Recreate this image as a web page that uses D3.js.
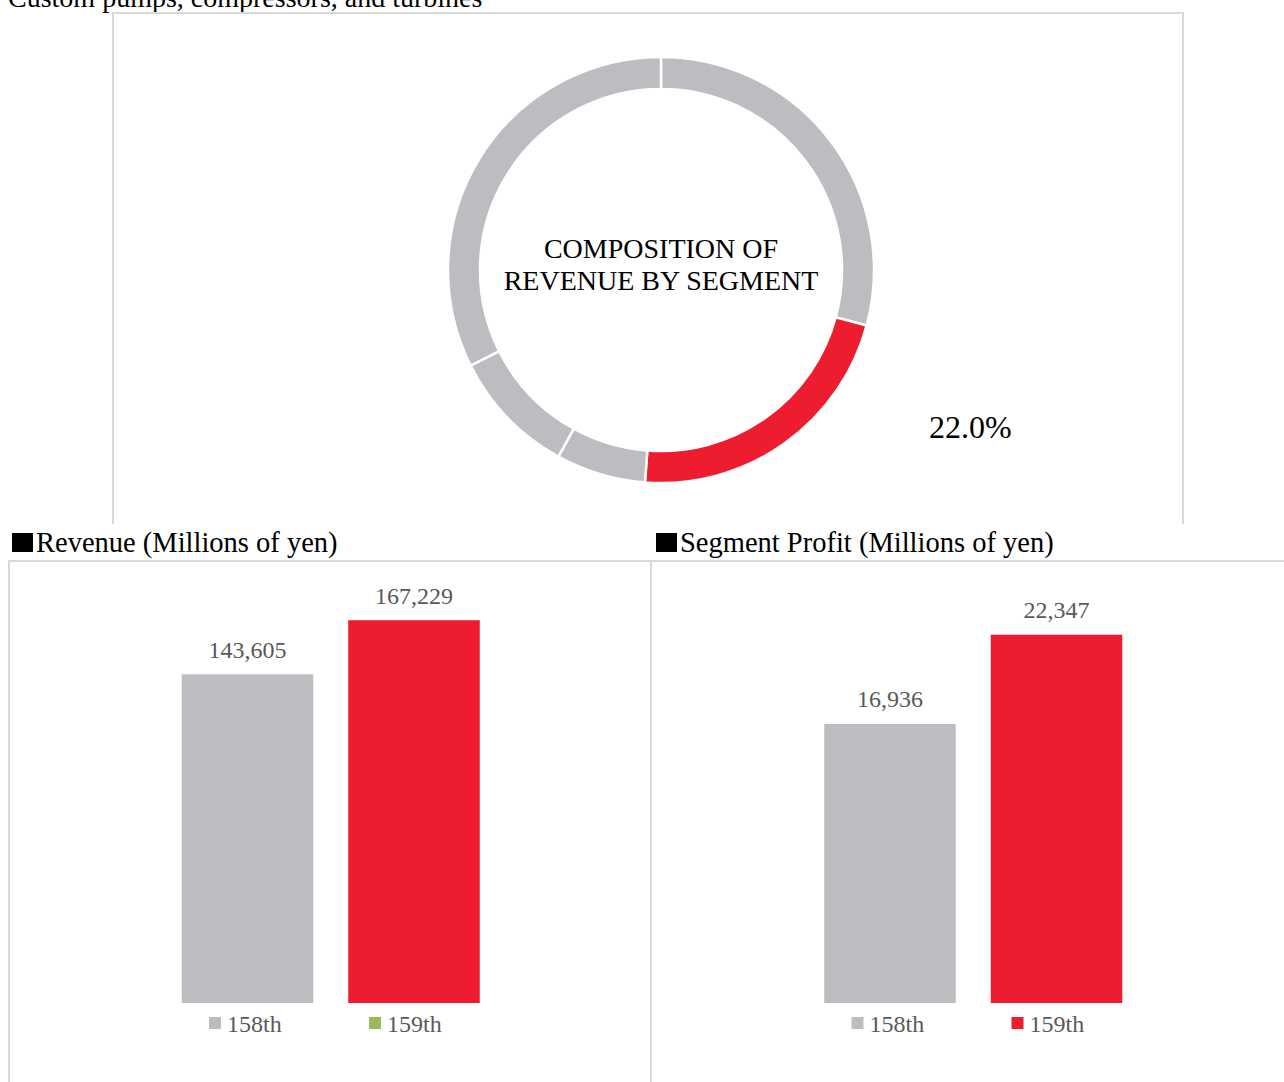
<!DOCTYPE html>
<html>
<head>
<meta charset="utf-8">
<script src="https://cdn.jsdelivr.net/npm/d3@7"></script>
<style>
  html, body { margin: 0; padding: 0; background: #fff; }
  svg { display: block; font-family: "Liberation Serif", "Times New Roman", serif; }
</style>
</head>
<body>
<svg id="chart" width="1284" height="1082"></svg>
<script>
// Segment shares of revenue (clockwise from 12 o'clock); the highlighted one is this segment
const segmentNames = ["Other A", "Custom pumps, compressors, and turbines", "Other B", "Other C", "Other D"];
const segmentShares = [29.2, 22.0, 6.8, 9.6, 32.4];
const highlightIndex = 1;

// Revenue and segment profit, millions of yen
const periods = ["158th", "159th"];
const revenueValues = [143605, 167229];
const profitValues = [16936, 22347];

// Legend swatch colours as printed under each bar chart
const revenueLegendColors = ["#bcbdc0", "#9bbb59"];
const profitLegendColors = ["#bcbdc0", "#ed1c2e"];

const GRAY = "#bcbdc0", RED = "#ed1c2e", BORDER = "#d9d9d9", LABEL = "#595959";

const svg = d3.select("#chart");

// ---- page title (runs off the top edge)
svg.append("text").attr("x", 8).attr("y", 7)
  .attr("font-size", 28).attr("fill", "#000")
  .text("Custom pumps, compressors, and turbines");

// ---- frames
const frame = svg.append("g").attr("stroke", BORDER).attr("stroke-width", 2).attr("fill", "none");
frame.append("path").attr("d", "M113,524 V13 H1183 V524");
frame.append("path").attr("d", "M9,1082 V561 H1284");
frame.append("line").attr("x1", 651).attr("x2", 651).attr("y1", 561).attr("y2", 1082);

// ---- donut
const cx = 661, cy = 270, rOuter = 213, rInner = 181;
const pie = d3.pie().sort(null).value(d => d);
const arc = d3.arc().innerRadius(rInner).outerRadius(rOuter);
const donut = svg.append("g").attr("transform", `translate(${cx},${cy})`);
donut.selectAll("path").data(pie(segmentShares)).join("path")
  .attr("d", arc)
  .attr("fill", (d, i) => i === highlightIndex ? RED : GRAY)
  .attr("stroke", "#fff").attr("stroke-width", 2.5)
  .append("title").text((d, i) => segmentNames[i]);

donut.append("text").attr("text-anchor", "middle").attr("font-size", 28).attr("fill", "#000")
  .selectAll("tspan").data(["COMPOSITION OF", "REVENUE BY SEGMENT"]).join("tspan")
  .attr("x", 0).attr("y", (d, i) => -12 + i * 32).text(d => d);

svg.append("text").attr("x", 929).attr("y", 438).attr("font-size", 32).attr("fill", "#000")
  .text(d3.format(".1f")(segmentShares[highlightIndex]) + "%");

// ---- bar charts
const legendOffsets = [-38.5, -45];

function barChart(opts) {
  const g = svg.append("g");
  // heading with black square marker
  g.append("rect").attr("x", opts.headX).attr("y", 533).attr("width", 21).attr("height", 19).attr("fill", "#000");
  g.append("text").attr("x", opts.headX + 24).attr("y", 552).attr("font-size", 28.5).attr("fill", "#000")
    .text(opts.title);

  const x = d3.scaleBand().domain(periods).range(opts.xRange).paddingInner(0.21).paddingOuter(0.5);
  const y = d3.scaleLinear().domain([0, opts.yMax]).range([1003, 591]);

  g.selectAll(".bar").data(opts.values).join("rect")
    .attr("x", (d, i) => x(periods[i]))
    .attr("y", d => y(d))
    .attr("width", x.bandwidth())
    .attr("height", d => y(0) - y(d))
    .attr("fill", (d, i) => i === 0 ? GRAY : RED);

  g.selectAll(".val").data(opts.values).join("text")
    .attr("x", (d, i) => x(periods[i]) + x.bandwidth() / 2)
    .attr("y", d => y(d) - 16.5)
    .attr("text-anchor", "middle").attr("font-size", 24).attr("fill", LABEL)
    .text(d => d3.format(",")(d));

  const leg = g.selectAll(".leg").data(periods).join("g")
    .attr("transform", (p, i) => `translate(${x(p) + x.bandwidth() / 2 + legendOffsets[i]},0)`);
  leg.append("rect").attr("x", 0).attr("y", 1017).attr("width", 12).attr("height", 12)
    .attr("fill", (p, i) => opts.legendColors[i]);
  leg.append("text").attr("x", 18).attr("y", 1032).attr("font-size", 24).attr("fill", LABEL)
    .text(p => p);
}

barChart({ title: "Revenue (Millions of yen)", headX: 12, values: revenueValues,
  xRange: [98.5, 563], yMax: 180000, legendColors: revenueLegendColors });
barChart({ title: "Segment Profit (Millions of yen)", headX: 656, values: profitValues,
  xRange: [741, 1205.5], yMax: 25000, legendColors: profitLegendColors });
</script>
</body>
</html>
